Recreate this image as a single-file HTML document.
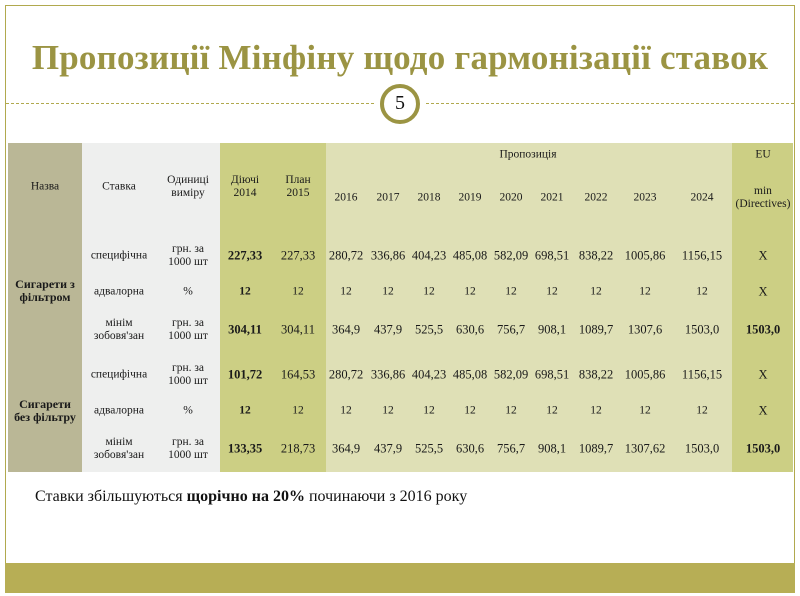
<!DOCTYPE html>
<html><head><meta charset="utf-8"><style>
*{margin:0;padding:0;box-sizing:border-box}
body{width:800px;height:596px;background:#fff;position:relative;overflow:hidden;font-family:"Liberation Serif","DejaVu Serif",serif;color:#1a1a1a}
.a{position:absolute}
.t{position:absolute;width:120px;text-align:center;transform:translate(-50%,-50%);font-size:11.5px;line-height:13px;white-space:nowrap}
.n{font-size:12.5px}
.b{font-weight:bold}
</style></head><body>
<div class="a" style="left:5px;top:5px;width:790px;height:588px;border:1px solid #b1a94e"></div>
<div class="a" style="left:5px;top:563px;width:790px;height:30px;background:#b7ae55"></div>
<div class="a" style="left:0;top:38px;width:800px;text-align:center;font-size:35px;font-weight:bold;color:#9b9443;letter-spacing:0.2px">Пропозиції Мінфіну щодо гармонізації ставок</div>
<div class="a" style="left:6px;top:103px;width:368px;border-top:1px dashed #b1a94e"></div>
<div class="a" style="left:426px;top:103px;width:368px;border-top:1px dashed #b1a94e"></div>
<div class="a" style="left:380px;top:84px;width:40px;height:40px;border:4px solid #9b9443;border-radius:50%;background:#fff;text-align:center;font-size:20px;line-height:31px;color:#111">5</div>

<div class="a" style="left:8px;top:143px;width:74px;height:329px;background:#bab796"></div>
<div class="a" style="left:82px;top:143px;width:138px;height:329px;background:#eeefee"></div>
<div class="a" style="left:220px;top:143px;width:106px;height:329px;background:#cccf84"></div>
<div class="a" style="left:326px;top:143px;width:406px;height:329px;background:#dfe0b6"></div>
<div class="a" style="left:732px;top:143px;width:61px;height:329px;background:#cccf84"></div>

<div class="t" style="left:45px;top:187px">Назва</div>
<div class="t" style="left:119px;top:187px">Ставка</div>
<div class="t" style="left:188px;top:187px">Одиниці<br>виміру</div>
<div class="t" style="left:245px;top:187px">Діючі<br>2014</div>
<div class="t" style="left:298px;top:187px">План<br>2015</div>
<div class="t" style="left:528px;top:155px">Пропозиція</div>
<div class="t" style="left:763px;top:155px">EU</div>
<div class="t" style="left:763px;top:198px">min<br>(Directives)</div>
<div class="t" style="left:346px;top:198px">2016</div>
<div class="t" style="left:388px;top:198px">2017</div>
<div class="t" style="left:429px;top:198px">2018</div>
<div class="t" style="left:470px;top:198px">2019</div>
<div class="t" style="left:511px;top:198px">2020</div>
<div class="t" style="left:552px;top:198px">2021</div>
<div class="t" style="left:596px;top:198px">2022</div>
<div class="t" style="left:645px;top:198px">2023</div>
<div class="t" style="left:702px;top:198px">2024</div>

<div class="t b" style="left:45px;top:291px;font-size:12px">Сигарети з<br>фільтром</div>
<div class="t b" style="left:45px;top:411px;font-size:12px">Сигарети<br>без фільтру</div>

<div class="t" style="left:119px;top:256px">специфічна</div><div class="t" style="left:188px;top:256px">грн. за<br>1000 шт</div>
<div class="t" style="left:119px;top:292px">адвалорна</div><div class="t" style="left:188px;top:292px">%</div>
<div class="t" style="left:119px;top:330px">мінім<br>зобовя'зан</div><div class="t" style="left:188px;top:330px">грн. за<br>1000 шт</div>
<div class="t" style="left:119px;top:375px">специфічна</div><div class="t" style="left:188px;top:375px">грн. за<br>1000 шт</div>
<div class="t" style="left:119px;top:411px">адвалорна</div><div class="t" style="left:188px;top:411px">%</div>
<div class="t" style="left:119px;top:449px">мінім<br>зобовя'зан</div><div class="t" style="left:188px;top:449px">грн. за<br>1000 шт</div>

<div class="t n b" style="left:245px;top:256px">227,33</div><div class="t n" style="left:298px;top:256px">227,33</div>
<div class="t b" style="left:245px;top:292px">12</div><div class="t" style="left:298px;top:292px">12</div>
<div class="t n b" style="left:245px;top:330px">304,11</div><div class="t n" style="left:298px;top:330px">304,11</div>
<div class="t n b" style="left:245px;top:375px">101,72</div><div class="t n" style="left:298px;top:375px">164,53</div>
<div class="t b" style="left:245px;top:411px">12</div><div class="t" style="left:298px;top:411px">12</div>
<div class="t n b" style="left:245px;top:449px">133,35</div><div class="t n" style="left:298px;top:449px">218,73</div>

<div class="t n" style="left:346px;top:256px">280,72</div><div class="t n" style="left:388px;top:256px">336,86</div><div class="t n" style="left:429px;top:256px">404,23</div><div class="t n" style="left:470px;top:256px">485,08</div><div class="t n" style="left:511px;top:256px">582,09</div><div class="t n" style="left:552px;top:256px">698,51</div><div class="t n" style="left:596px;top:256px">838,22</div><div class="t n" style="left:645px;top:256px">1005,86</div><div class="t n" style="left:702px;top:256px">1156,15</div><div class="t n" style="left:763px;top:256px">X</div>
<div class="t" style="left:346px;top:292px">12</div><div class="t" style="left:388px;top:292px">12</div><div class="t" style="left:429px;top:292px">12</div><div class="t" style="left:470px;top:292px">12</div><div class="t" style="left:511px;top:292px">12</div><div class="t" style="left:552px;top:292px">12</div><div class="t" style="left:596px;top:292px">12</div><div class="t" style="left:645px;top:292px">12</div><div class="t" style="left:702px;top:292px">12</div><div class="t n" style="left:763px;top:292px">X</div>
<div class="t n" style="left:346px;top:330px">364,9</div><div class="t n" style="left:388px;top:330px">437,9</div><div class="t n" style="left:429px;top:330px">525,5</div><div class="t n" style="left:470px;top:330px">630,6</div><div class="t n" style="left:511px;top:330px">756,7</div><div class="t n" style="left:552px;top:330px">908,1</div><div class="t n" style="left:596px;top:330px">1089,7</div><div class="t n" style="left:645px;top:330px">1307,6</div><div class="t n" style="left:702px;top:330px">1503,0</div><div class="t n b" style="left:763px;top:330px">1503,0</div>
<div class="t n" style="left:346px;top:375px">280,72</div><div class="t n" style="left:388px;top:375px">336,86</div><div class="t n" style="left:429px;top:375px">404,23</div><div class="t n" style="left:470px;top:375px">485,08</div><div class="t n" style="left:511px;top:375px">582,09</div><div class="t n" style="left:552px;top:375px">698,51</div><div class="t n" style="left:596px;top:375px">838,22</div><div class="t n" style="left:645px;top:375px">1005,86</div><div class="t n" style="left:702px;top:375px">1156,15</div><div class="t n" style="left:763px;top:375px">X</div>
<div class="t" style="left:346px;top:411px">12</div><div class="t" style="left:388px;top:411px">12</div><div class="t" style="left:429px;top:411px">12</div><div class="t" style="left:470px;top:411px">12</div><div class="t" style="left:511px;top:411px">12</div><div class="t" style="left:552px;top:411px">12</div><div class="t" style="left:596px;top:411px">12</div><div class="t" style="left:645px;top:411px">12</div><div class="t" style="left:702px;top:411px">12</div><div class="t n" style="left:763px;top:411px">X</div>
<div class="t n" style="left:346px;top:449px">364,9</div><div class="t n" style="left:388px;top:449px">437,9</div><div class="t n" style="left:429px;top:449px">525,5</div><div class="t n" style="left:470px;top:449px">630,6</div><div class="t n" style="left:511px;top:449px">756,7</div><div class="t n" style="left:552px;top:449px">908,1</div><div class="t n" style="left:596px;top:449px">1089,7</div><div class="t n" style="left:645px;top:449px">1307,62</div><div class="t n" style="left:702px;top:449px">1503,0</div><div class="t n b" style="left:763px;top:449px">1503,0</div>

<div class="a" style="left:35px;top:488px;font-size:16px;color:#111">Ставки збільшуються <b>щорічно на 20%</b> починаючи з 2016 року</div>
</body></html>
